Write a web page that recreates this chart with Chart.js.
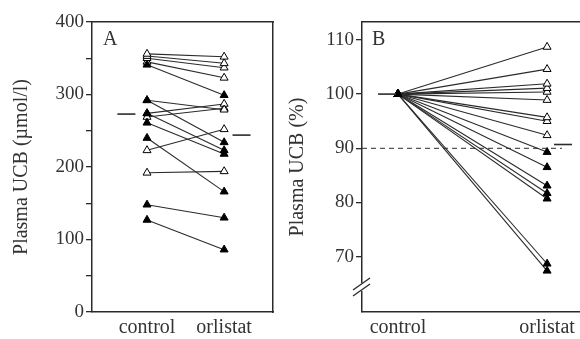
<!DOCTYPE html>
<html>
<head>
<meta charset="utf-8">
<script src="https://cdn.jsdelivr.net/npm/chart.js@4"></script>
<style>
  body { margin: 0; background: #fff; }
  #wrap { position: relative; width: 580px; height: 339px; }
  .pane { position: absolute; top: 0; height: 339px; }
  #paneA { left: 0; width: 285px; }
  #paneB { left: 285px; width: 295px; }
</style>
</head>
<body>
<div id="wrap">
  <div class="pane" id="paneA"><canvas id="chartA" width="285" height="339"></canvas></div>
  <div class="pane" id="paneB"><canvas id="chartB" width="295" height="339"></canvas></div>
</div>
<script>
// categories on the x axis
const groups = ["control", "orlistat"];

// Panel A: plasma UCB (µmol/l) per subject
const controlA  = [356, 353, 350, 345, 341, 292, 292, 274, 274, 269, 261, 240, 223, 192, 148, 127];
const orlistatA = [352, 343, 337, 323, 299, 234, 279, 287, 223, 281, 218, 166, 252, 194, 130,  86];
const filledA   = [0,   0,   0,   0,   1,   1,   0,   0,   1,   0,   1,   1,   0,   0,   1,   1];
const meanA     = [273, 244];
const ticksA    = [0, 100, 200, 300, 400];

// Panel B: plasma UCB (% of control)
const orlistatB = [108.7, 104.6, 101.9, 101.1, 100.4, 98.9, 95.7, 95, 92.4, 89.3, 86.5, 83.1, 81.7, 80.7, 68.7, 67.4];
const filledB   = [0,     0,     0,     0,     0,     0,    0,    0,  0,    1,    1,    1,    1,    1,    1,    1];
const meanB     = [100, 90.7];
const refLineB  = 90;
const ticksB    = [70, 80, 90, 100, 110];

const INK = "#2b2b2b";
const SERIF = "'Liberation Serif', 'DejaVu Serif', serif";

function pairSets(ctrl, orl, filled, xs) {
  return ctrl.map((c, i) => ({
    data: [{ x: xs[0], y: c }, { x: xs[1], y: orl[i] }],
    borderColor: INK,
    borderWidth: 1.1,
    pointStyle: "triangle",
    pointRadius: 4.6,
    pointBorderWidth: 1,
    pointBorderColor: "#000",
    pointBackgroundColor: filled[i] ? "#000" : "#fff",
    order: filled[i] ? 1 : 2
  }));
}

function meanSet(x, y) {
  return {
    data: [{ x: x, y: y }],
    showLine: false,
    pointStyle: "line",
    pointRadius: 9,
    pointBorderWidth: 1.6,
    pointBorderColor: INK
  };
}

// pin axis sizes and drop the label overflow padding
function fixSize(w, h) {
  return s => {
    if (w != null) s.width = w;
    if (h != null) s.height = h;
    s.paddingLeft = 0; s.paddingRight = 0; s.paddingTop = 0; s.paddingBottom = 0;
  };
}

function makeOptions(cfg) {
  return {
    responsive: false,
    animation: false,
    layout: { padding: 0, autoPadding: false },
    plugins: { legend: { display: false }, tooltip: { enabled: false } },
    scales: {
      x: {
        type: "linear", min: 0, max: 1,
        afterBuildTicks: s => { s.ticks = cfg.xs.map(v => ({ value: v })); },
        afterFit: fixSize(null, 27),
        grid: { display: false, drawTicks: false },
        border: { display: true, color: INK, width: 1.5 },
        ticks: {
          padding: 4, color: "#333", font: { family: SERIF, size: 20 },
          callback: (v, i) => groups[i]
        }
      },
      xTop: {
        type: "linear", position: "top", min: 0, max: 1,
        afterFit: fixSize(null, 22),
        grid: { display: false, drawTicks: false },
        border: { display: true, color: INK, width: 1.5 },
        ticks: { display: false }
      },
      y: {
        type: "linear", min: cfg.ymin, max: cfg.ymax,
        afterBuildTicks: s => { s.ticks = cfg.ticks.map(v => ({ value: v })); },
        afterFit: fixSize(cfg.leftW, null),
        grid: { drawOnChartArea: false, drawTicks: true, tickLength: 6, color: INK, lineWidth: 1.3 },
        border: { display: true, color: INK, width: 1.5 },
        title: {
          display: true, text: cfg.title, color: "#333", padding: { top: cfg.titlePad, bottom: 0 },
          font: { family: SERIF, size: 20 }
        },
        ticks: {
          padding: 2, color: "#333", font: { family: SERIF, size: 19 },
          callback: v => cfg.labelled.includes(v) ? String(v) : ""
        }
      },
      ...(cfg.rightW ? {
        yRight: {
          type: "linear", position: "right", min: cfg.ymin, max: cfg.ymax,
          afterFit: fixSize(cfg.rightW, null),
          grid: { display: false, drawTicks: false },
          border: { display: true, color: INK, width: 1.5 },
          ticks: { display: false }
        }
      } : {})
    }
  };
}

function letterPlugin(letter, dx) {
  return {
    id: "letter" + letter,
    afterDraw(chart) {
      const { ctx, chartArea } = chart;
      ctx.save();
      ctx.font = "20px " + SERIF;
      ctx.fillStyle = "#333";
      ctx.textBaseline = "top";
      ctx.fillText(letter, chartArea.left + dx, chartArea.top + 8);
      ctx.restore();
    }
  };
}

// Panel A
const xsA = [0.304, 0.73];
const ticksAllA = [0, 50, 100, 150, 200, 250, 300, 350, 400];
new Chart(document.getElementById("chartA"), {
  type: "line",
  data: {
    datasets: [
      ...pairSets(controlA, orlistatA, filledA, xsA),
      meanSet(0.19, meanA[0]),
      meanSet(0.826, meanA[1])
    ]
  },
  options: makeOptions({
    xs: xsA, ymin: 0, ymax: 400, ticks: ticksAllA, labelled: ticksA,
    leftW: 92, rightW: 12, titlePad: 10, title: "Plasma UCB (\u00b5mol/l)"
  }),
  plugins: [letterPlugin("A", 11)]
});

// Panel B
const xsB = [0.165, 0.849];
const axisBreak = {
  id: "axisBreak",
  afterDraw(chart) {
    const { ctx } = chart;
    const x0 = chart.scales.y.right;
    const yc = chart.chartArea.bottom - 25;
    ctx.save();
    ctx.fillStyle = "#fff";
    ctx.fillRect(x0 - 3, yc - 4, 6, 8);
    ctx.strokeStyle = INK;
    ctx.lineWidth = 1.4;
    [-3, 3].forEach(o => {
      ctx.beginPath();
      ctx.moveTo(x0 - 9, yc + o + 6);
      ctx.lineTo(x0 + 8, yc + o - 6);
      ctx.stroke();
    });
    ctx.restore();
  }
};
new Chart(document.getElementById("chartB"), {
  type: "line",
  data: {
    datasets: [
      {
        data: [{ x: 0, y: refLineB }, { x: 0.917, y: refLineB }],
        borderColor: INK, borderWidth: 1, borderDash: [5, 4], pointRadius: 0
      },
      ...pairSets(orlistatB.map(() => 100), orlistatB, filledB, xsB),
      meanSet(0.115, meanB[0]),
      meanSet(0.922, meanB[1])
    ]
  },
  options: makeOptions({
    xs: xsB, ymin: 59.8, ymax: 113.3, ticks: ticksB, labelled: ticksB,
    leftW: 77, rightW: 0, titlePad: 1, title: "Plasma UCB (%)"
  }),
  plugins: [letterPlugin("B", 10), axisBreak]
});
</script>
</body>
</html>
